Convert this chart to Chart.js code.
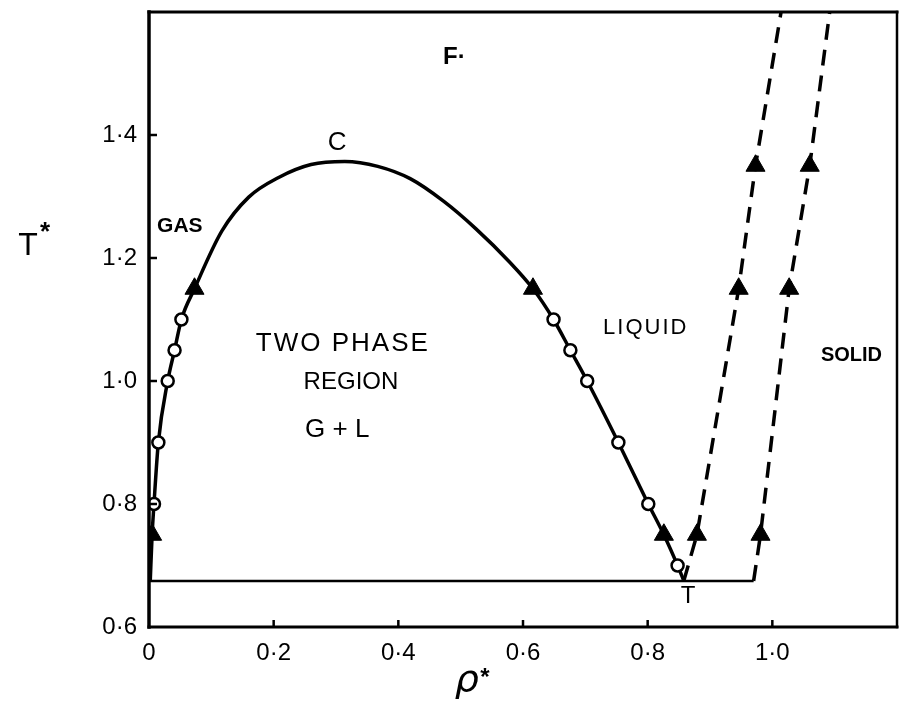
<!DOCTYPE html>
<html lang="en">
<head>
<meta charset="UTF-8">
<title>Phase diagram</title>
<script src="https://cdn.jsdelivr.net/npm/chart.js"></script>
<style>
  body { margin: 0; padding: 0; background: #fff; }
  canvas { display: block; }
</style>
</head>
<body>
<canvas id="phaseChart" width="909" height="708"></canvas>
<script>
// gas-liquid coexistence curve, gas branch -> C -> liquid branch -> T
const curveRho = [0.002, 0.005, 0.008, 0.015, 0.030, 0.041, 0.052, 0.073, 0.117, 0.160, 0.208, 0.260, 0.314, 0.367, 0.419, 0.473, 0.525, 0.578, 0.616, 0.649, 0.676, 0.703, 0.753, 0.801, 0.826, 0.848, 0.858];
const curveT   = [0.675, 0.75, 0.80, 0.90, 1.00, 1.05, 1.10, 1.15, 1.244, 1.299, 1.331, 1.352, 1.357, 1.349, 1.329, 1.292, 1.247, 1.194, 1.15, 1.10, 1.05, 1.00, 0.90, 0.80, 0.75, 0.70, 0.675];

// freezing and melting lines (dashed)
const freezeRho = [0.858, 0.879, 0.946, 0.973, 1.014];
const freezeT   = [0.675, 0.75, 1.15, 1.35, 1.60];
const meltRho   = [0.970, 0.981, 1.027, 1.060, 1.092];
const meltT     = [0.675, 0.75, 1.15, 1.35, 1.60];

// triple point line
const tripleRho = [0.0, 0.970];
const tripleT   = [0.675, 0.675];

// open circles
const gasCircleRho = [0.008, 0.015, 0.030, 0.041, 0.052];
const gasCircleT   = [0.80, 0.90, 1.00, 1.05, 1.10];
const liqCircleRho = [0.649, 0.676, 0.703, 0.753, 0.801, 0.848];
const liqCircleT   = [1.10, 1.05, 1.00, 0.90, 0.80, 0.70];

// filled triangles
const coexTriRho  = [0.005, 0.073, 0.616, 0.826];
const coexTriT    = [0.75, 1.15, 1.15, 0.75];
const solidTriRho = [0.879, 0.946, 0.973, 0.981, 1.027, 1.060];
const solidTriT   = [0.75, 1.15, 1.35, 0.75, 1.15, 1.35];

const xTicks = [0, 0.2, 0.4, 0.6, 0.8, 1.0];
const yTicks = [0.6, 0.8, 1.0, 1.2, 1.4];

function zip(xs, ys) {
  return xs.map((x, i) => ({ x: x, y: ys[i] }));
}

function tickText(v) {
  if (v === 0) return '0';
  return v.toFixed(1).replace('.', '\u00b7');
}

const FONT = '"Liberation Sans", Arial, sans-serif';

// frame round the plot and short inward tick marks
const framePlugin = {
  id: 'frame',
  afterDatasetsDraw(chart) {
    const ctx = chart.ctx;
    const a = chart.chartArea;
    const xs = chart.scales.x, ys = chart.scales.y;
    ctx.save();
    ctx.strokeStyle = '#000';
    ctx.lineCap = 'square';
    const side = (w, x1, y1, x2, y2) => {
      ctx.lineWidth = w;
      ctx.beginPath();
      ctx.moveTo(x1, y1);
      ctx.lineTo(x2, y2);
      ctx.stroke();
    };
    side(3.5, a.left, a.top, a.left, a.bottom);
    side(3, a.left, a.bottom, a.right, a.bottom);
    side(3, a.left, a.top, a.right, a.top);
    side(2.5, a.right, a.top, a.right, a.bottom);

    ctx.lineCap = 'butt';
    xTicks.slice(1).forEach(v => {
      const px = xs.getPixelForValue(v);
      side(2.5, px, a.bottom, px, a.bottom - 7);
    });
    yTicks.slice(1).forEach(v => {
      const py = ys.getPixelForValue(v);
      side(2.5, a.left, py, a.left + 8, py);
    });
    ctx.restore();
  }
};

// region labels and axis titles
const labelPlugin = {
  id: 'labels',
  afterDraw(chart) {
    const ctx = chart.ctx;
    const xs = chart.scales.x, ys = chart.scales.y;
    const a = chart.chartArea;
    ctx.save();
    ctx.fillStyle = '#000';
    ctx.textBaseline = 'middle';
    const put = (text, rx, ty, font, align, spacing) => {
      ctx.font = font;
      ctx.textAlign = align || 'center';
      ctx.letterSpacing = spacing || '0px';
      ctx.fillText(text, xs.getPixelForValue(rx), ys.getPixelForValue(ty));
    };
    put('C', 0.302, 1.387, '26px ' + FONT);
    put('F\u00b7', 0.49, 1.526, 'bold 24px ' + FONT);
    put('GAS', 0.013, 1.252, '600 21px ' + FONT, 'left');
    put('LIQUID', 0.797, 1.086, '22px ' + FONT, 'center', '2px');
    put('SOLID', 1.127, 1.041, 'bold 20px ' + FONT);
    put('TWO PHASE', 0.311, 1.061, '26px ' + FONT, 'center', '2px');
    put('REGION', 0.324, 0.998, '24px ' + FONT);
    put('G + L', 0.302, 0.920, '26px ' + FONT);
    put('T', 0.865, 0.650, '24px ' + FONT);

    // axis titles
    ctx.letterSpacing = '0px';
    ctx.textAlign = 'center';
    ctx.font = '32px ' + FONT;
    const ty = ys.getPixelForValue(1.22);
    ctx.fillText('T', 28, ty);
    ctx.font = 'bold 26px ' + FONT;
    ctx.fillText('*', 45, ty - 13);

    const rx = xs.getPixelForValue(0.51);
    ctx.textBaseline = 'alphabetic';
    ctx.font = 'italic 38px "DejaVu Sans", sans-serif';
    ctx.fillText('\u03c1', rx, a.bottom + 64);
    ctx.font = 'bold 24px ' + FONT;
    ctx.fillText('*', rx + 18, a.bottom + 58);
    ctx.restore();
  }
};

const ctx = document.getElementById('phaseChart').getContext('2d');
new Chart(ctx, {
  type: 'scatter',
  data: {
    datasets: [
      {
        label: 'Open circles',
        data: zip(gasCircleRho, gasCircleT).concat(zip(liqCircleRho, liqCircleT)),
        pointStyle: 'circle',
        pointRadius: 6,
        pointBackgroundColor: '#fff',
        pointBorderColor: '#000',
        pointBorderWidth: 2.5,
        showLine: false,
        order: 0
      },
      {
        label: 'Triangles',
        data: zip(coexTriRho, coexTriT).concat(zip(solidTriRho, solidTriT)),
        pointStyle: 'triangle',
        pointRadius: 11,
        pointBackgroundColor: '#000',
        pointBorderColor: '#000',
        pointBorderWidth: 1,
        showLine: false,
        order: 1
      },
      {
        label: 'Coexistence',
        data: zip(curveRho, curveT),
        showLine: true,
        borderColor: '#000',
        borderWidth: 3.5,
        cubicInterpolationMode: 'monotone',
        pointRadius: 0,
        order: 2
      },
      {
        label: 'Freezing',
        data: zip(freezeRho, freezeT),
        showLine: true,
        borderColor: '#000',
        borderWidth: 3.5,
        borderDash: [16, 10],
        pointRadius: 0,
        order: 3
      },
      {
        label: 'Melting',
        data: zip(meltRho, meltT),
        showLine: true,
        borderColor: '#000',
        borderWidth: 3.5,
        borderDash: [16, 10],
        pointRadius: 0,
        order: 3
      },
      {
        label: 'Triple line',
        data: zip(tripleRho, tripleT),
        showLine: true,
        borderColor: '#000',
        borderWidth: 2.5,
        pointRadius: 0,
        order: 4
      }
    ]
  },
  options: {
    responsive: false,
    animation: false,
    layout: { padding: { top: 6, right: 4, left: 0, bottom: 0 } },
    plugins: {
      legend: { display: false },
      tooltip: { enabled: false }
    },
    scales: {
      x: {
        type: 'linear',
        min: 0,
        max: 1.2,
        afterFit: s => { s.height = 81; s.paddingLeft = 0; s.paddingRight = 0; },
        afterBuildTicks: s => { s.ticks = xTicks.map(v => ({ value: v })); },
        grid: { display: false, drawTicks: false },
        border: { display: false },
        ticks: {
          padding: 12,
          color: '#000',
          font: { family: FONT, size: 24 },
          callback: v => tickText(v)
        }
      },
      y: {
        type: 'linear',
        min: 0.6,
        max: 1.6,
        afterFit: s => { s.width = 149; s.paddingTop = 0; s.paddingBottom = 0; },
        afterBuildTicks: s => { s.ticks = yTicks.map(v => ({ value: v })); },
        grid: { display: false, drawTicks: false },
        border: { display: false },
        ticks: {
          padding: 12,
          color: '#000',
          font: { family: FONT, size: 24 },
          callback: v => tickText(v)
        }
      }
    }
  },
  plugins: [framePlugin, labelPlugin]
});
</script>
</body>
</html>
